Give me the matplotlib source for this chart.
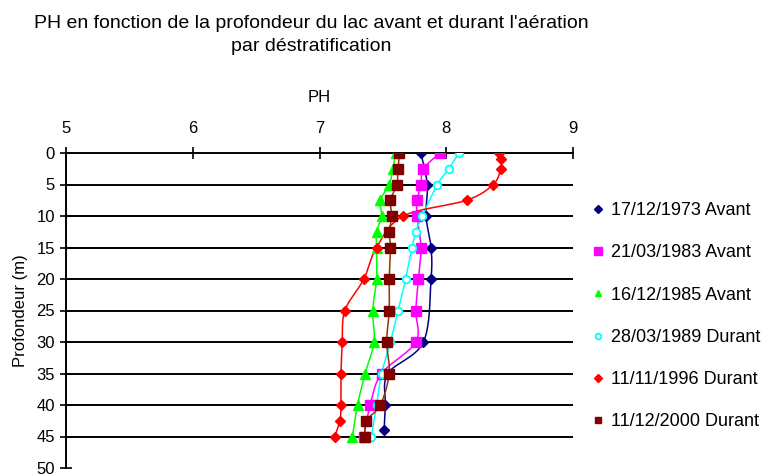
import numpy as np
import matplotlib
matplotlib.use("Agg")
import matplotlib.pyplot as plt
from matplotlib.lines import Line2D

plt.rcParams['font.family'] = ['Liberation Sans', 'DejaVu Sans']

# ---- data ----
labels = ["17/12/1973 Avant", "21/03/1983 Avant", "16/12/1985 Avant",
          "28/03/1989 Durant", "11/11/1996 Durant", "11/12/2000 Durant"]

depth_1973 = [0, 5, 10, 15, 20, 30, 35, 40, 44]
ph_1973 = [7.80, 7.85, 7.84, 7.88, 7.88, 7.82, 7.54, 7.52, 7.51]

depth_1983 = [0, 2.5, 5, 7.5, 10, 15, 20, 25, 30, 35, 40, 45]
ph_1983 = [7.95, 7.82, 7.80, 7.77, 7.77, 7.80, 7.78, 7.76, 7.76, 7.49, 7.40, 7.35]

depth_1985 = [0, 2.5, 5, 7.5, 10, 12.5, 15, 20, 25, 30, 35, 40, 45]
ph_1985 = [7.60, 7.58, 7.55, 7.48, 7.49, 7.45, 7.45, 7.45, 7.42, 7.43, 7.36, 7.30, 7.26]

depth_1989 = [0, 2.5, 5, 10, 12.5, 15, 20, 25, 30, 35, 40, 45]
ph_1989 = [8.10, 8.02, 7.93, 7.81, 7.76, 7.73, 7.68, 7.62, 7.56, 7.49, 7.45, 7.41]

depth_1996 = [0, 1, 2.5, 5, 7.5, 10, 15, 20, 25, 30, 35, 40, 42.5, 45]
ph_1996 = [8.42, 8.43, 8.43, 8.37, 8.16, 7.66, 7.45, 7.35, 7.20, 7.18, 7.17, 7.17, 7.16, 7.12]

depth_2000 = [0, 2.5, 5, 7.5, 10, 12.5, 15, 20, 25, 30, 35, 40, 42.5, 45]
ph_2000 = [7.63, 7.62, 7.61, 7.56, 7.57, 7.55, 7.56, 7.55, 7.55, 7.53, 7.55, 7.48, 7.37, 7.36]

x_ticks = [5, 6, 7, 8, 9]
y_ticks = [0, 5, 10, 15, 20, 25, 30, 35, 40, 45, 50]

series = [
    (ph_1973, depth_1973, dict(marker='D', ms=5.5, mfc='#000080', mec='#000080'), '#000080'),
    (ph_1983, depth_1983, dict(marker='s', ms=7.5, mfc='#FF00FF', mec='#FF00FF'), '#FF00FF'),
    (ph_1985, depth_1985, dict(marker='^', ms=6.5, mfc='#00FF00', mec='#00FF00'), '#00FF00'),
    (ph_1989, depth_1989, dict(marker='o', ms=5.5, mfc='white', mec='#00FFFF', mew=1.3), '#00FFFF'),
    (ph_1996, depth_1996, dict(marker='D', ms=5.5, mfc='#FF0000', mec='#FF0000'), '#FF0000'),
    (ph_2000, depth_2000, dict(marker='s', ms=6.5, mfc='#800000', mec='#800000'), '#993300'),
]


def smooth(xs, ys, n=24):
    pts = np.column_stack([xs, ys]).astype(float)
    P = np.vstack([pts[0], pts, pts[-1]])
    out = []
    t = np.linspace(0, 1, n)[:, None]
    for i in range(1, len(P) - 2):
        p0, p1, p2, p3 = P[i - 1], P[i], P[i + 1], P[i + 2]
        c1 = p1 + (p2 - p0) / 6.0
        c2 = p2 - (p3 - p1) / 6.0
        seg = ((1 - t) ** 3) * p1 + 3 * ((1 - t) ** 2) * t * c1 + 3 * (1 - t) * t ** 2 * c2 + t ** 3 * p2
        out.append(seg)
    s = np.vstack(out)
    return s[:, 0], s[:, 1]


fig = plt.figure(figsize=(7.76, 4.76), dpi=100)
ax = fig.add_axes([66 / 776, 8 / 476, 507 / 776, 315 / 476])

for yv in y_ticks[1:-1]:
    ax.axhline(yv, color='black', lw=1.4, zorder=1)

for ph, dep, mk, lc in series:
    sx, sy = smooth(ph, dep)
    ax.plot(sx, sy, color=lc, lw=1.1, zorder=2)
    ax.plot(ph, dep, ls='none', zorder=3, **mk)

ax.set_xlim(5, 9)
ax.set_ylim(50, 0)
ax.set_xticks(x_ticks)
ax.set_yticks(y_ticks)
ax.xaxis.tick_top()
ax.xaxis.set_label_position('top')
ax.tick_params(axis='both', direction='inout', length=8, width=1.2, labelsize=12, colors='black')
ax.tick_params(axis='x', pad=8)
ax.tick_params(axis='y', pad=4)
for s in ['right', 'bottom']:
    ax.spines[s].set_visible(False)
for s in ['left', 'top']:
    ax.spines[s].set_linewidth(1.4)
ax.set_xlabel('PH', fontsize=12, labelpad=14)
ax.set_ylabel('Profondeur (m)', fontsize=12, labelpad=6)

fig.text(311 / 776, 1 - 35 / 476,
         "PH en fonction de la profondeur du lac avant et durant l'aération\npar déstratification",
         ha='center', va='center', fontsize=14, linespacing=1.45)

handles = [Line2D([], [], ls='none', **dict(mk, ms=mk['ms'] * 0.75)) for _, _, mk, _ in series]
fig.legend(handles, labels, loc='upper left', bbox_to_anchor=(593 / 776, 1 - 202 / 476),
           frameon=False, fontsize=13, handlelength=0.6, handletextpad=0.4,
           labelspacing=1.4, borderaxespad=0, borderpad=0)

fig.savefig('out.png', dpi=100, facecolor='white')
